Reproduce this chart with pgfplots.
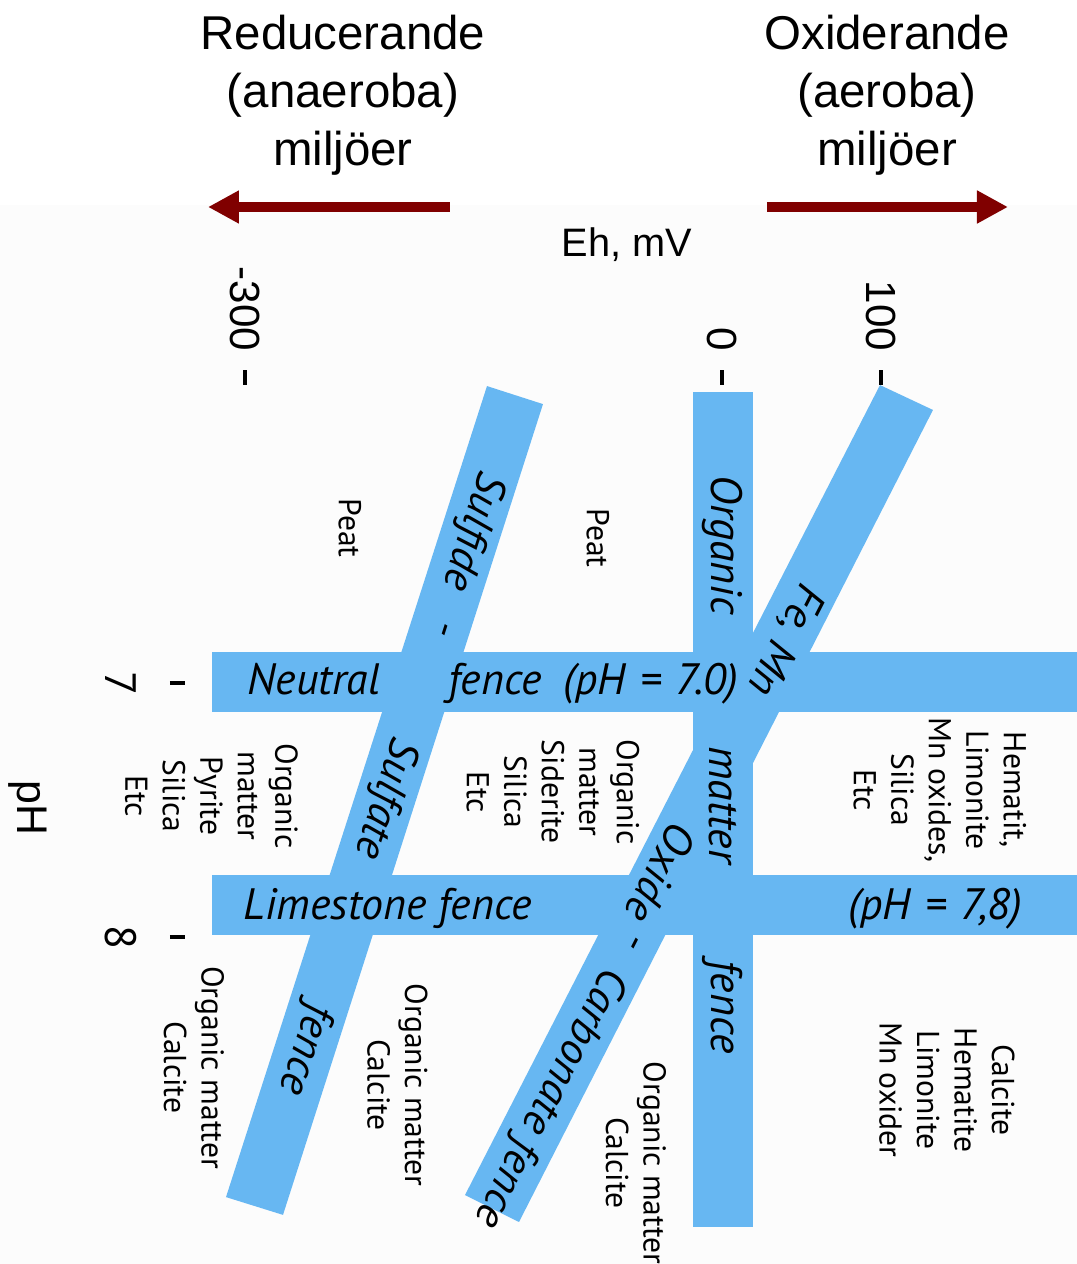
\documentclass[border=0pt]{standalone}
\usepackage{fontspec}
\setmainfont{Liberation Sans}
\newfontfamily\bandfont{PT Sans}
\usepackage{pgfplots}
\pgfplotsset{compat=1.18}
\usetikzlibrary{arrows.meta}
\definecolor{bandblue}{RGB}{103,183,242}
\definecolor{arrowred}{RGB}{128,0,0}
\newcommand{\headfont}{\fontsize{13.5}{16.5}\selectfont}
\newcommand{\bandit}{\bandfont\itshape\fontsize{12.5}{14}\selectfont}
\newcommand{\matfont}{\bandfont\fontsize{9}{10.67}\selectfont}
\newcommand{\eqsp}{\hspace{0.33em}}
\begin{document}
\begin{tikzpicture}
\begin{axis}[
  scale only axis, width=8.92cm, height=8.79cm,
  xmin=-337.74, xmax=223.27, ymin=5.8268, ymax=9.2874,
  y dir=reverse, clip=false, axis on top,
  axis line style={draw=none},
  xtick={-300,0,100}, xticklabels={-300,0,100},
  ytick={7,8}, yticklabels={7,8},
  xtick pos=right, xticklabel pos=right,
  ytick pos=left, yticklabel pos=left,
  tick align=outside, major tick length=0.15cm,
  tick style={black, line width=1.1pt},
  xticklabel style={rotate=-90, anchor=east, inner xsep=0.18cm, font=\fontsize{12}{14}\selectfont},
  yticklabel style={rotate=-90, anchor=north, inner ysep=0.33cm, font=\bandfont\fontsize{12.5}{14}\selectfont},
]
% faint background of the lower part
\fill[black!1.2] (axis cs:-454.09,5.118) rectangle (axis cs:223.27,9.2874);

% fences (bands)
\addplot[fill=bandblue, draw=none] coordinates {(-320.75,6.878) (223.27,6.878) (223.27,7.114) (-320.75,7.114)} -- cycle;
\addplot[fill=bandblue, draw=none] coordinates {(-320.75,7.756) (223.27,7.756) (223.27,7.992) (-320.75,7.992)} -- cycle;
\addplot[fill=bandblue, draw=none] coordinates {(-18.24,5.854) (19.50,5.854) (19.50,9.142) (-18.24,9.142)} -- cycle;
\addplot[fill=bandblue, draw=none] coordinates {(99.37,5.827) (132.70,5.925) (-127.67,9.122) (-161.64,9.016)} -- cycle;
\addplot[fill=bandblue, draw=none] coordinates {(-147.80,5.831) (-112.58,5.902) (-276.10,9.094) (-311.95,9.024)} -- cycle;

% headings and arrows
\node[font=\headfont, align=center] at (axis cs:-238.4,4.685) {Reducerande\\(anaeroba)\\miljöer};
\node[font=\headfont, align=center] at (axis cs:103.8,4.685) {Oxiderande\\(aeroba)\\miljöer};
\draw[arrowred, line width=0.1cm, -{Triangle[length=0.31cm, width=0.31cm]}] (axis cs:-171.07,5.126) -- (axis cs:-323.27,5.126);
\draw[arrowred, line width=0.1cm, -{Triangle[length=0.31cm, width=0.31cm]}] (axis cs:28.30,5.126) -- (axis cs:179.87,5.126);
\node[font=\fontsize{11.3}{13}\selectfont] at (axis cs:-59.75,5.276) {Eh, mV};
\node[rotate=-90, font=\fontsize{12.2}{14}\selectfont] at (axis cs:-436.48,7.492) {pH};

% horizontal band labels
\node[anchor=base west, font=\bandit, inner sep=0pt] at (axis cs:-298.74,7.0433) {Neutral};
\node[anchor=base west, font=\bandit, inner sep=0pt] at (axis cs:-172.33,7.0433) {fence};
\node[anchor=base west, font=\bandit, inner sep=0pt] at (axis cs:-100,7.0433) {(pH\eqsp=\eqsp7.0)};
\node[anchor=base west, font=\bandit, inner sep=0pt] at (axis cs:-301.26,7.933) {Limestone fence};
\node[anchor=base west, font=\bandit, inner sep=0pt] at (axis cs:79.25,7.933) {(pH\eqsp=\eqsp7,8)};

% vertical band labels
\node[rotate=-90, font=\bandit] at (axis cs:0.6,6.457) {Organic};
\node[rotate=-90, font=\bandit] at (axis cs:0.6,7.480) {matter};
\node[rotate=-90, font=\bandit] at (axis cs:0.6,8.276) {fence};

% Fe,Mn / Oxide-Carbonate band labels
\node[rotate=-117.13, font=\bandit] at (axis cs:39.6,6.831) {Fe, Mn};
\node[rotate=-117.13, font=\bandit] at (axis cs:-38.36,7.748) {Oxide};
\node[rotate=-117.13, font=\bandit] at (axis cs:-57.86,8.012) {-};
\node[rotate=-117.13, font=\bandit] at (axis cs:-108.81,8.632) {Carbonate fence};

% Sulfide-Sulfate band labels
\node[rotate=-107.84, font=\bandit] at (axis cs:-157.23,6.402) {Sulfide};
\node[rotate=-107.84, font=\bandit] at (axis cs:-177.36,6.783) {-};
\node[rotate=-107.84, font=\bandit] at (axis cs:-211.95,7.453) {Sulfate};
\node[rotate=-107.84, font=\bandit] at (axis cs:-262.58,8.441) {fence};

% materials
\node[rotate=-90, font=\matfont] at (axis cs:-233.96,6.390) {Peat};
\node[rotate=-90, font=\matfont] at (axis cs:-77.99,6.429) {Peat};
\node[rotate=-90, font=\matfont, align=center] at (axis cs:137.11,7.421) {Hematit,\\Limonite\\Mn oxides,\\Silica\\Etc};
\node[rotate=-90, font=\matfont, align=center] at (axis cs:-106.29,7.429) {Organic\\matter\\Siderite\\Silica\\Etc};
\node[rotate=-90, font=\matfont, align=center] at (axis cs:-321.07,7.445) {Organic\\matter\\Pyrite\\Silica\\Etc};
\node[rotate=-90, font=\matfont, align=center] at (axis cs:141.51,8.602) {Calcite\\Hematite\\Limonite\\Mn oxider};
\node[rotate=-90, font=\matfont, align=center] at (axis cs:-54.09,8.890) {Organic matter\\Calcite};
\node[rotate=-90, font=\matfont, align=center] at (axis cs:-204.09,8.583) {Organic matter\\Calcite};
\node[rotate=-90, font=\matfont, align=center] at (axis cs:-332.08,8.514) {Organic matter\\Calcite};

\coordinate (bbTL) at (axis cs:-454.09,4.311);
\coordinate (bbBR) at (axis cs:223.27,9.2874);
\end{axis}
\pgfresetboundingbox
\path[use as bounding box] (bbTL) rectangle (bbBR);
\end{tikzpicture}
\end{document}
